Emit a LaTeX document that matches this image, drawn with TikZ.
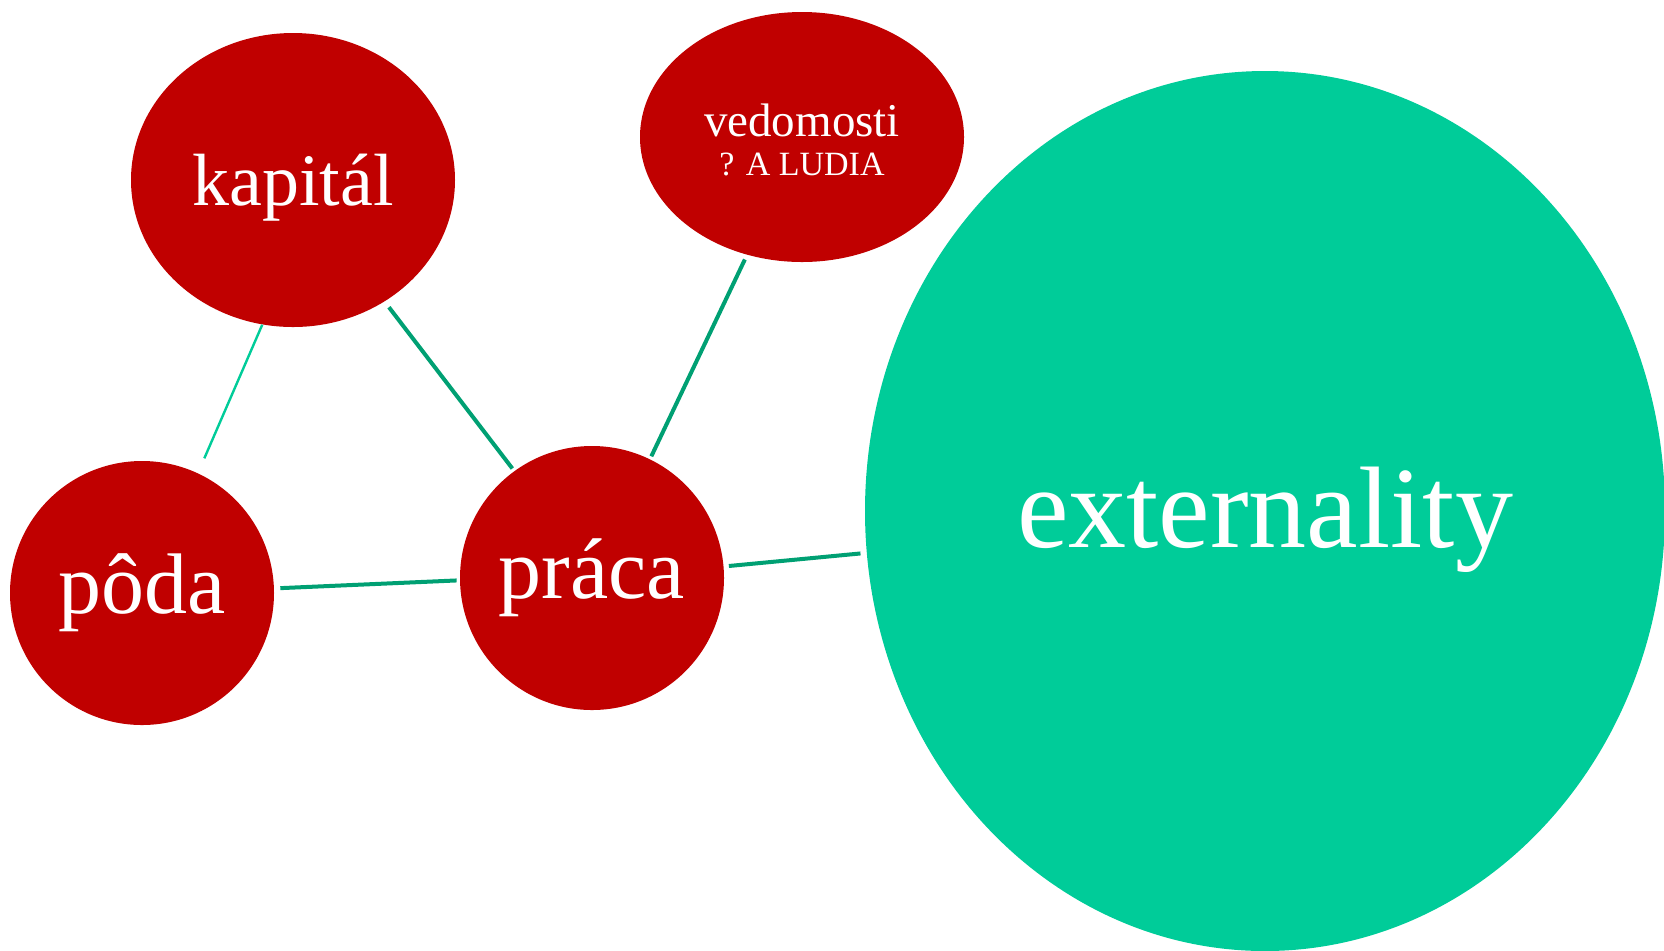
\documentclass[tikz,border=0pt]{standalone}
\usepackage{fontspec}
\setmainfont{Liberation Serif}
\usetikzlibrary{shapes.geometric}

\definecolor{factorred}{RGB}{192,0,0}
\definecolor{extgreen}{RGB}{0,204,153}
\definecolor{linkgreen}{RGB}{0,160,115}

\begin{document}
\begin{tikzpicture}
[
x=0.5pt, y=-0.5pt,
every node/.style={ellipse, inner sep=0pt, text=white},
factor/.style={fill=factorred, font=\fontsize{37}{44}\selectfont},
bigfactor/.style={factor, circle, minimum size=132pt, font=\fontsize{43}{50}\selectfont},
link/.style={draw=linkgreen, line width=2pt},
thinlink/.style={draw=extgreen, line width=1.2pt}
]

\useasboundingbox (0,0) rectangle (1664,950);

\node[factor, minimum width=162pt, minimum height=147pt, text depth=0pt] (kapital) at (293,180) {kapitál};
\node[fill=factorred, minimum width=162pt, minimum height=125pt, align=center,
	font=\fontsize{17}{19.5}\selectfont] (vedomosti) at (802,137)
	{\rule{0pt}{19.5pt}{\fontsize{23.5}{28}\selectfont vedomosti}\\? A LUDIA};
\node[bigfactor] (poda) at (142,593) {pôda};
\node[bigfactor] (praca) at (592,578) {práca};
\node[fill=extgreen, minimum width=400pt, minimum height=440pt, text height=36pt, text depth=0pt,
	font=\fontsize{58}{68}\selectfont] (ext) at (1265,511) {externality};

% connectors
\draw[thinlink, shorten >=8pt] (kapital.-102) -- (poda.65.7);
\draw[link, shorten <=3.5pt, shorten >=1.5pt] (kapital.-53.4) -- (praca.126.9);
\draw[link, shorten <=2.5pt, shorten >=1.5pt] (vedomosti.-115) -- (praca.64.6);
\draw[link, shorten <=3pt, shorten >=1.5pt] (poda.2.1) -- (praca.181.3);
\draw[link, shorten <=2.5pt, shorten >=3pt] (praca.5.9) -- (ext.186);
\end{tikzpicture}
\end{document}
